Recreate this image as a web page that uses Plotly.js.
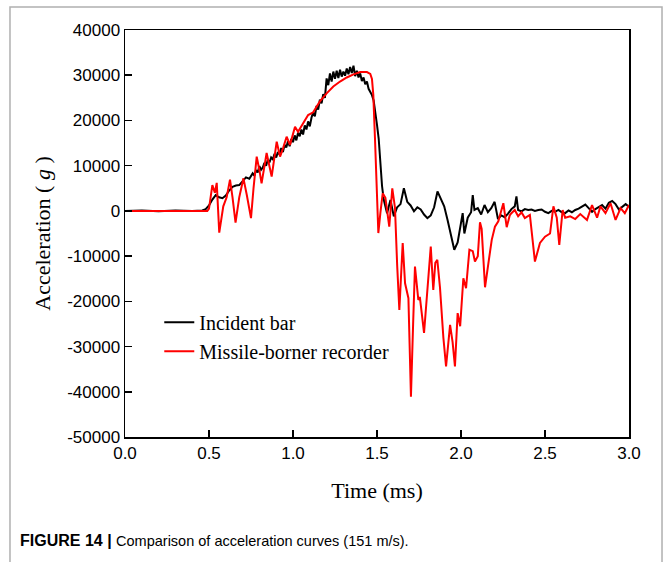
<!DOCTYPE html>
<html>
<head>
<meta charset="utf-8">
<script src="https://cdn.plot.ly/plotly-3.0.1.min.js"></script>
<style>
  html, body { margin: 0; padding: 0; background: #fff; }
  #chart { width: 665px; height: 562px; }
</style>
</head>
<body>
<div id="chart"></div>
<script>
// Incident bar acceleration (time in ms, acceleration in g)
const incidentTime = [
  0.00, 0.10, 0.20, 0.30, 0.40, 0.46, 0.48, 0.50, 0.52, 0.54, 0.56, 0.58, 0.60, 0.62, 0.64, 0.66,
  0.68, 0.70, 0.72, 0.74, 0.76, 0.77, 0.78, 0.79, 0.80, 0.81, 0.82, 0.83, 0.84, 0.85, 0.86, 0.87,
  0.88, 0.89, 0.90, 0.91, 0.92, 0.93, 0.94, 0.95, 0.96, 0.97, 0.98, 0.99, 1.00, 1.01, 1.02, 1.03,
  1.04, 1.05, 1.06, 1.07, 1.08, 1.09, 1.10, 1.11, 1.12, 1.13, 1.14, 1.15, 1.16, 1.17, 1.18, 1.19,
  1.20, 1.21, 1.22, 1.23, 1.24, 1.25, 1.26, 1.27, 1.28, 1.29, 1.30, 1.31, 1.32, 1.33, 1.34, 1.35,
  1.36, 1.37, 1.38, 1.39, 1.40, 1.41, 1.42, 1.43, 1.44, 1.45, 1.46, 1.47, 1.48, 1.49, 1.50, 1.51,
  1.52, 1.53, 1.54, 1.56, 1.58, 1.60, 1.62, 1.64, 1.66, 1.68, 1.70, 1.72, 1.74, 1.76, 1.78, 1.80,
  1.82, 1.84, 1.86, 1.88, 1.90, 1.92, 1.94, 1.96, 1.98, 2.00, 2.01, 2.02, 2.04, 2.06, 2.07, 2.08,
  2.10, 2.12, 2.14, 2.16, 2.18, 2.20, 2.22, 2.24, 2.26, 2.28, 2.30, 2.32, 2.33, 2.34, 2.36, 2.38,
  2.40, 2.42, 2.44, 2.46, 2.48, 2.50, 2.52, 2.54, 2.56, 2.58, 2.60, 2.62, 2.64, 2.66, 2.68, 2.70,
  2.72, 2.74, 2.76, 2.78, 2.80, 2.82, 2.84, 2.86, 2.88, 2.90, 2.92, 2.94, 2.96, 2.98, 3.00
];
const incidentAccel = [
  0, 100, -100, 100, 0, 100, 400, 1200, 2500, 3500, 3000, 2800, 3400, 4500, 5300, 5600,
  5700, 6500, 7400, 7100, 8300, 7800, 9000, 8500, 9900, 9100, 9600, 10600, 10000, 11300, 10700, 11800,
  11400, 12600, 11800, 13000, 12500, 13900, 13000, 14600, 14000, 15400, 14300, 15900, 15200, 16700, 15600, 17300,
  16500, 18000, 16900, 18900, 18000, 19800, 18700, 20600, 21800, 20900, 23200, 22400, 24600, 23800, 25800, 25000,
  29300, 27800, 30400, 28600, 30800, 29200, 31000, 29400, 31200, 29700, 30800, 29900, 31500, 30200, 31800, 30500,
  32100, 29800, 31000, 29500, 30400, 28700, 29500, 28000, 28600, 27000, 26200, 25600, 24400, 22000, 19000, 16000,
  10500, 5500, 2500, -500, 2400, -1200, 800, 1500, 5000, 2000, 1200, -100, 800, 300, -800, -1600,
  -1000, 800, 4300, 2600, 1000, -2000, -5000, -8600, -7000, -2500, -500, -5000, -1500, -300, 3500, 200,
  600, -800, 1300, -300, 600, 2000, -1800, -1000, -1400, -600, 400, 1000, 3200, 200, -100, 400,
  200, 300, 0, 200, 300, -200, -500, 0, -200, 200, -300, -500, 100, -300, 200, 500,
  1000, 1400, 600, -200, 400, 900, 1300, 500, 1800, 2200, 1500, 300, 800, 1500, 900
];

// Missile-borne recorder acceleration (time in ms, acceleration in g)
const recorderTime = [
  0.00, 0.10, 0.20, 0.30, 0.40, 0.49, 0.500, 0.520, 0.535, 0.546, 0.561, 0.585, 0.605, 0.625, 0.640, 0.658,
  0.680, 0.705, 0.725, 0.750, 0.765, 0.784, 0.800, 0.813, 0.843, 0.858, 0.873, 0.903, 0.923, 0.942, 0.962, 0.982,
  1.012, 1.030, 1.060, 1.090, 1.120, 1.160, 1.200, 1.240, 1.280, 1.320, 1.360, 1.400, 1.440, 1.460, 1.470, 1.478,
  1.488, 1.498, 1.508, 1.520, 1.534, 1.550, 1.573, 1.591, 1.607, 1.620, 1.633, 1.653, 1.667, 1.687, 1.702, 1.715,
  1.726, 1.746, 1.755, 1.780, 1.800, 1.820, 1.835, 1.847, 1.859, 1.875, 1.895, 1.911, 1.935, 1.950, 1.964, 1.980,
  1.995, 2.014, 2.030, 2.050, 2.070, 2.083, 2.100, 2.113, 2.123, 2.143, 2.163, 2.183, 2.202, 2.222, 2.252, 2.272,
  2.290, 2.300, 2.320, 2.340, 2.360, 2.380, 2.410, 2.430, 2.440, 2.470, 2.500, 2.530, 2.550, 2.570, 2.585, 2.605,
  2.620, 2.650, 2.680, 2.710, 2.750, 2.780, 2.810, 2.830, 2.860, 2.890, 2.920, 2.950, 2.975, 3.000
];
const recorderAccel = [
  0, 0, 0, 0, 0, 0, 500, 5700, 4000, 6200, -4800, 1000, 3000, 6900, 3000, -2600,
  3000, 7200, 3500, -1600, 5000, 12000, 9000, 6100, 12800, 10000, 7600, 15300, 12000, 14000, 16400, 14600,
  18600, 17500, 19200, 21200, 21800, 24200, 26000, 27500, 28600, 29500, 30200, 30700, 30700, 30300, 29200, 25700,
  16000, 5000, -4900, -500, 3900, 2900, -3500, 5000, 700, -12000, -21900, -7100, -16000, -19300, -41100, -25000,
  -12300, -19700, -19000, -27000, -17000, -7900, -17500, -11500, -10800, -17000, -28000, -34400, -25200, -29000, -34400, -22600,
  -25500, -14900, -17100, -8600, -8900, -11200, -10000, -2500, -4000, -16900, -11600, -6400, -3500, -2300, 1700, -3600,
  -1000, -500, 200, -1200, -300, -1600, -900, -7900, -11200, -7100, -5700, -5000, 1000, -1500, -7500, 200,
  -1500, -1200, -1800, -700, -2000, 1300, -1500, 1000, -500, 1700, -2000, 600, -500, 1300
];

// Axis ticks
const xTickVals = [0, 0.5, 1.0, 1.5, 2.0, 2.5, 3.0];
const xTickText = ['0.0', '0.5', '1.0', '1.5', '2.0', '2.5', '3.0'];
const yTickVals = [40000, 30000, 20000, 10000, 0, -10000, -20000, -30000, -40000, -50000];
const yTickText = ['40000', '30000', '20000', '10000', '0', '-10000', '-20000', '-30000', '-40000', '-50000'];

const serif = 'Liberation Serif, Times New Roman, serif';
const sans = 'Liberation Sans, Arial, sans-serif';

const traces = [
  {
    x: incidentTime, y: incidentAccel, type: 'scatter', mode: 'lines',
    name: 'Incident bar',
    line: { color: '#000000', width: 2 }
  },
  {
    x: recorderTime, y: recorderAccel, type: 'scatter', mode: 'lines',
    name: 'Missile-borner recorder',
    line: { color: '#ff0000', width: 2 }
  }
];

const axisCommon = {
  showgrid: false, zeroline: false,
  showline: true, linecolor: '#000000', linewidth: 1.5, mirror: true,
  ticks: 'inside', ticklen: 7, tickwidth: 1.5, tickcolor: '#000000',
  tickfont: { family: sans, size: 17, color: '#000000' },
  tickmode: 'array'
};

const layout = {
  width: 665, height: 562,
  margin: { l: 125, r: 36, t: 30, b: 125 },
  paper_bgcolor: '#ffffff', plot_bgcolor: '#ffffff',
  showlegend: true,
  legend: {
    x: 0.068, y: 0.33, xanchor: 'left', yanchor: 'top',
    bgcolor: 'rgba(0,0,0,0)', borderwidth: 0,
    font: { family: serif, size: 20, color: '#000000' },
    tracegroupgap: 0
  },
  xaxis: Object.assign({}, axisCommon, {
    range: [0, 3], tickvals: xTickVals, ticktext: xTickText,
    title: { text: 'Time (ms)', font: { family: serif, size: 22, color: '#000000' }, standoff: 20 }
  }),
  yaxis: Object.assign({}, axisCommon, {
    range: [-50000, 40000], tickvals: yTickVals, ticktext: yTickText,
    title: { text: 'Acceleration ( <i>g</i> )', font: { family: serif, size: 22, color: '#000000' }, standoff: 10 }
  }),
  shapes: [
    {
      type: 'rect', xref: 'paper', yref: 'paper',
      x0: -0.2282, x1: 1.0655, y0: -0.36, y1: 1.0565,
      line: { color: '#b0b0b0', width: 1.5 }, fillcolor: 'rgba(0,0,0,0)'
    }
  ],
  annotations: [
    {
      xref: 'paper', yref: 'paper', x: -0.2123, y: -0.2555,
      xanchor: 'left', yanchor: 'middle', showarrow: false,
      text: '<b>FIGURE 14 |</b> <span style="font-size:14.5px">Comparison of acceleration curves (151 m/s).</span>',
      font: { family: sans, size: 16, color: '#000000' }
    }
  ]
};

Plotly.newPlot('chart', traces, layout, { displayModeBar: false, staticPlot: true });
</script>
</body>
</html>
